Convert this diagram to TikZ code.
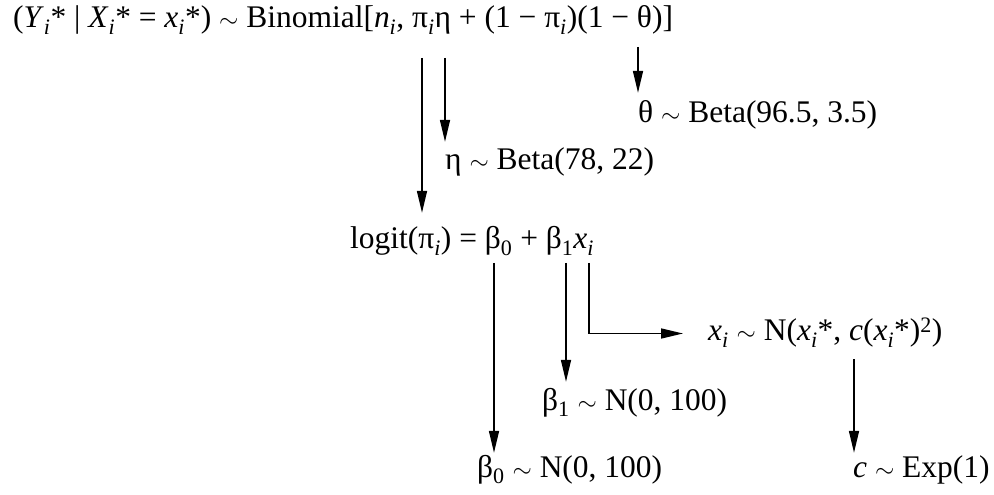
\documentclass[tikz,border=0pt]{standalone}
\usepackage{fontspec}
\setmainfont{Liberation Serif}
\usetikzlibrary{arrows.meta}
\newcommand{\subi}{\textsubscript{\textit{i}}}
\newcommand{\tld}{$\sim$}

\begin{document}
\begin{tikzpicture}[
  x=1bp, y=-1bp,
  every node/.style={font=\fontsize{31.6}{37}\selectfont},
  term/.style={anchor=base west, inner sep=0pt, text height=23bp, text depth=8bp},
  arrow/.style={-{Triangle[length=22bp, width=10bp]}, line width=1.6bp}
]
\useasboundingbox (0,0) rectangle (994,495);
% the model line and its priors
\node[term] (binom) at (13,28) {(\textit{Y}\subi* | \textit{X}\subi* = \textit{x}\subi*) \tld{} Binomial[\textit{n}\subi, π\subi η + (1 − π\subi)(1 − θ)]};
\node[term] (theta) at (638,123) {θ \tld{} Beta(96.5, 3.5)};
\node[term] (eta) at (445,170) {η \tld{} Beta(78, 22)};
\node[term] (logit) at (350,249) {logit(π\subi) = β\textsubscript{0} + β\textsubscript{1}\textit{x}\subi};
\node[term] (xi) at (708,341) {\textit{x}\subi{} \tld{} N(\textit{x}\subi*, \textit{c}(\textit{x}\subi*)\textsuperscript{2})};
\node[term] (beta1) at (542,410) {β\textsubscript{1} \tld{} N(0, 100)};
\node[term] (beta0) at (477,477) {β\textsubscript{0} \tld{} N(0, 100)};
\node[term] (c) at (853,477) {\textit{c} \tld{} Exp(1)};
% arrow starts under the symbols
\coordinate (pisrc) at (422,58);
\coordinate (etasrc) at (445,58);
\coordinate (thetasrc) at (638,47);
\coordinate (bzerosrc) at (494,263);
\coordinate (bonesrc) at (566,263);
\coordinate (xisrc) at (589,263);
\coordinate (csrc) at (854,359);
\draw[arrow, shorten >=13bp] (pisrc) -- (pisrc |- logit.north);
\draw[arrow, shorten >=5bp] (etasrc) -- (etasrc |- eta.north);
\draw[arrow, shorten >=7bp] (thetasrc) -- (thetasrc |- theta.north);
\draw[arrow, shorten >=1bp] (bzerosrc) -- (bzerosrc |- beta0.north);
\draw[arrow, shorten >=5bp] (bonesrc) -- (bonesrc |- beta1.north);
\draw[arrow, shorten >=25bp] (xisrc) |- (xi.west);
\draw[arrow, shorten >=1bp] (csrc) -- (csrc |- c.north);
\end{tikzpicture}
\end{document}
